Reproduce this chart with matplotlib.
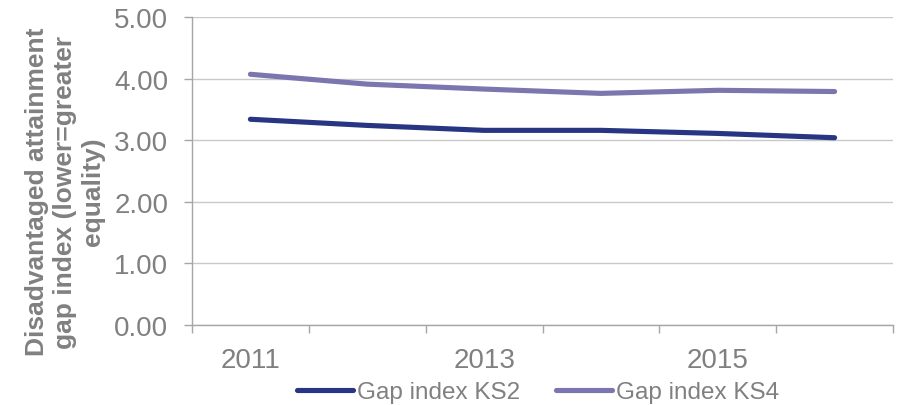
import matplotlib
matplotlib.use("Agg")
import matplotlib.pyplot as plt
import numpy as np

plt.rcParams['font.family'] = ['Liberation Sans', 'DejaVu Sans']

years = [2011, 2012, 2013, 2014, 2015, 2016]
gap_ks2 = [3.34, 3.24, 3.16, 3.16, 3.11, 3.04]
gap_ks4 = [4.07, 3.91, 3.83, 3.76, 3.81, 3.79]
yticks = [0, 1, 2, 3, 4, 5]
shown_years = [2011, 2013, 2015]

grey = '#808080'
axis_grey = '#a6a6a6'

fig = plt.figure(figsize=(8.99, 4.06), dpi=100)
ax = fig.add_axes([192/899, 1-326/406, (893-192)/899, (326-18)/406])

x = np.arange(len(years))
ax.plot(x, gap_ks2, color='#283583', lw=3.7, solid_capstyle='round', label='Gap index KS2')
ax.plot(x, gap_ks4, color='#7b76ae', lw=3.7, solid_capstyle='round', label='Gap index KS4')

ax.set_xlim(-0.5, len(years) - 0.5)
ax.set_ylim(0, 5)
ax.set_yticks(yticks)
ax.set_yticklabels([f'{v:.2f}' for v in yticks])
ax.yaxis.grid(True, color='#c9c9c9', lw=1.0)
ax.set_axisbelow(True)

ax.set_xticks([years.index(y) for y in shown_years])
ax.set_xticklabels([str(y) for y in shown_years])
ax.set_xticks(np.arange(-0.5, len(years)), minor=True)
ax.tick_params(axis='x', which='major', length=0, pad=16, labelsize=20, labelcolor=grey)
ax.tick_params(axis='x', which='minor', length=6, width=1, color=axis_grey, direction='out')
ax.tick_params(axis='y', length=6, width=1, color=axis_grey, pad=11, labelsize=20, labelcolor=grey)

for s in ['top', 'right']:
    ax.spines[s].set_visible(False)
for s in ['left', 'bottom']:
    ax.spines[s].set_color(axis_grey)
    ax.spines[s].set_linewidth(1)

fig.text(65/899, 1-192/406, 'Disadvantaged attainment\ngap index (lower=greater\nequality)',
         rotation=90, ha='center', va='center', multialignment='center',
         fontsize=19, fontweight='bold', color=grey, linespacing=1.2)

leg = ax.legend(loc='center', bbox_to_anchor=(538/899, 1-393/406), bbox_transform=fig.transFigure,
                ncol=2, frameon=False, fontsize=17.5, handlelength=2.3, handletextpad=0.17,
                columnspacing=1.5, borderpad=0, borderaxespad=0)
for t in leg.get_texts():
    t.set_color(grey)

fig.savefig('out.png', dpi=100)
